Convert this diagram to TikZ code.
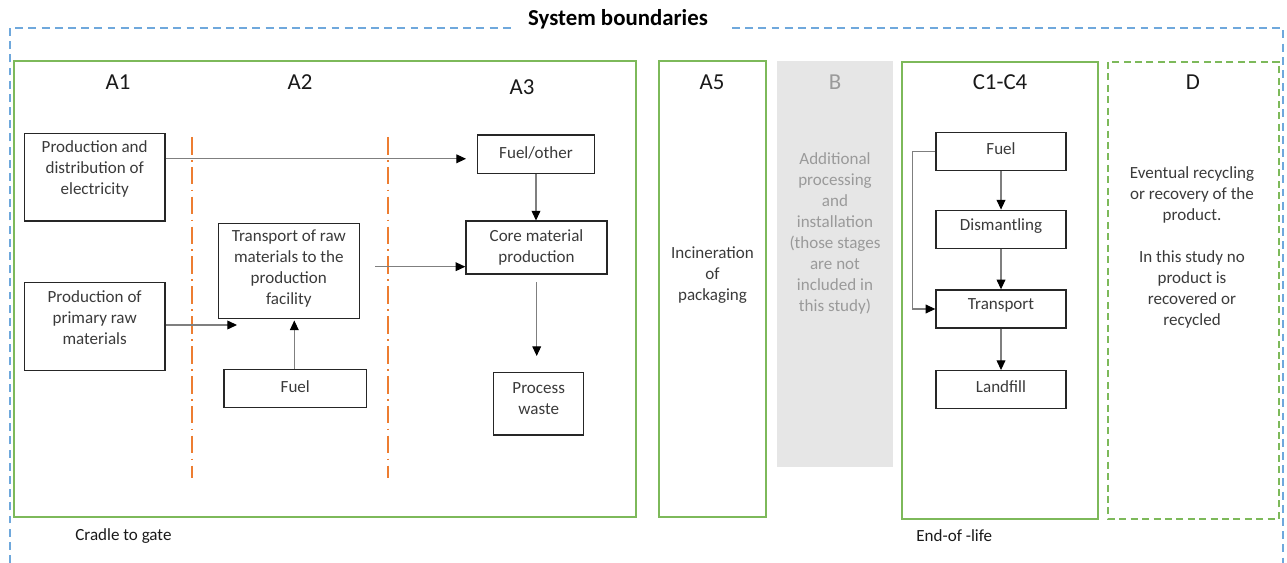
\documentclass[tikz,border=0pt]{standalone}
\usepackage{fontspec}
\setmainfont{Carlito}
\usetikzlibrary{arrows.meta}
\definecolor{lgreen}{HTML}{7DB95A}
\definecolor{lblue}{HTML}{6FA8DC}
\definecolor{orng}{HTML}{ED7D31}
\definecolor{lgray}{HTML}{E6E6E6}
\definecolor{btxt}{HTML}{9A9A9A}
\definecolor{dtxt}{HTML}{3A3A3A}
\definecolor{agray}{HTML}{7F7F7F}
\tikzset{
  bx/.style={draw=black!85, line width=0.8pt, inner sep=0pt},
  txt/.style={text=dtxt, align=center, font=\fontsize{9.7}{11.95}\selectfont, inner sep=0pt},
  stage/.style={text=black!90, font=\fontsize{13}{15}\selectfont, inner sep=0pt},
  gbox/.style={draw=lgreen, line width=1.1pt},
  arr/.style={draw=agray, line width=0.6pt, -{Triangle[length=5.5pt,width=5pt,color=black]}},
  bluedash/.style={draw=lblue, line width=0.7pt, dash pattern=on 4.5pt off 3pt},
  orangeline/.style={draw=orng, line width=1.1pt, dash pattern=on 10pt off 3pt on 1pt off 3pt},
}
\begin{document}
\begin{tikzpicture}[x=0.02cm, y=-0.02cm]
\useasboundingbox (0,0) rectangle (1287,563);

% outer system boundary
\draw[bluedash] (10,563) -- (10,28) -- (515,28);
\draw[bluedash] (732,28) -- (1283,28) -- (1283,563);
\node[font=\bfseries\fontsize{13}{15}\selectfont, inner sep=0pt] (title) at (618,19) {System boundaries};

% stage frames
\draw[gbox] (14,61) rectangle (636,517);
\draw[gbox] (659,61) rectangle (766,517);
\fill[lgray] (777,61) rectangle (893,467);
\draw[gbox] (902,62) rectangle (1098,519);
\draw[lgreen, line width=1.1pt, dash pattern=on 4pt off 2.5pt] (1108,62) rectangle (1279,519);

% stage labels
\node[stage] (A1) at (118,82) {A1};
\node[stage] (A2) at (300,82) {A2};
\node[stage] (A3) at (522,87) {A3};
\node[stage] (A5) at (712,82) {A5};
\node[stage, text=btxt] (B) at (835,82) {B};
\node[stage] (C) at (1000,82) {C1-C4};
\node[stage] (D) at (1193,82) {D};

% orange separators
\draw[orangeline] (192,137) -- (192,478);
\draw[orangeline] (388,137) -- (388,478);

% A1-A3 boxes
\node[bx, minimum width=2.82cm, minimum height=1.76cm] (elec) at (94.7,177.2) {};
\node[txt] (elect) at (94.7,169) {Production and\\distribution of\\electricity};
\node[bx, minimum width=2.82cm, minimum height=1.76cm] (raw) at (94.7,326.7) {};
\node[txt] (rawt) at (94.7,318) {Production of\\primary raw\\materials};
\node[bx, minimum width=2.82cm, minimum height=1.90cm] (trans) at (288.8,270.8) {};
\node[txt] (transt) at (288.8,268.5) {Transport of raw\\materials to the\\production\\facility};
\node[bx, minimum width=2.85cm, minimum height=0.76cm] (fa2) at (295.3,388.3) {};
\node[txt] (fa2t) at (295.3,386.5) {Fuel};
\node[bx, minimum width=2.33cm, minimum height=0.77cm] (fo) at (536,154.2) {};
\node[txt] (fot) at (536,153) {Fuel/other};
\node[bx, minimum width=2.82cm, minimum height=1.06cm] (core) at (536.5,247.7) {};
\node[txt] (coret) at (536.5,247.5) {Core material\\production};
\node[bx, minimum width=1.80cm, minimum height=1.25cm] (waste) at (538.7,403.7) {};
\node[txt] (wastet) at (538.7,398.5) {Process\\waste};

% A5, B, D texts
\node[txt] (a5t) at (712.5,275) {Incineration\\of\\packaging};
\node[txt, text=btxt] (bt) at (835,233.5) {Additional\\processing\\and\\installation\\(those stages\\are not\\included in\\this study)};
\node[txt] (dt) at (1192,247.5) {Eventual recycling\\or recovery of the\\product.\\[11.95pt]In this study no\\product is\\recovered or\\recycled};

% C boxes
\node[bx, minimum width=2.60cm, minimum height=0.77cm] (cf) at (1001,151.5) {};
\node[txt] (cft) at (1001,148.5) {Fuel};
\node[bx, minimum width=2.60cm, minimum height=0.76cm] (dism) at (1001,229.3) {};
\node[txt] (dismt) at (1001,226.5) {Dismantling};
\node[bx, minimum width=2.60cm, minimum height=0.76cm] (ct) at (1001,309) {};
\node[txt] (ctt) at (1001,305.5) {Transport};
\node[bx, minimum width=2.60cm, minimum height=0.75cm] (lf) at (1001,389.5) {};
\node[txt] (lft) at (1001,387) {Landfill};

% connectors
\coordinate (ea) at (466,158.8);
\draw[arr] (elec.east |- ea) -- (ea);
\coordinate (tb) at (375,266.7);
\draw[arr] (tb) -- (core.west |- tb);
\coordinate (ra) at (237,325);
\draw[arr] (raw.east |- ra) -- (ra);
\coordinate (fx) at (294.3,320.5);
\draw[arr] (fa2.north -| fx) -- (fx);
\draw[arr] (fo.south) -- (fo.south |- core.north);
\coordinate (cw) at (536.7,356);
\draw[arr] ([yshift=-0.15cm]core.south -| cw) -- (cw);
\draw[arr] (cf.south) -- (dism.north);
\draw[arr] (dism.south) -- (ct.north);
\draw[arr] (ct.south) -- (lf.north);
\draw[arr] (cf.west) -- ++(-23,0) |- (ct.west);

% bottom labels
\node[txt, text=black!90, anchor=west] (cg) at (75,536) {Cradle to gate};
\node[txt, text=black!90, anchor=west] (eol) at (916,536) {End-of -life};
\end{tikzpicture}
\end{document}
